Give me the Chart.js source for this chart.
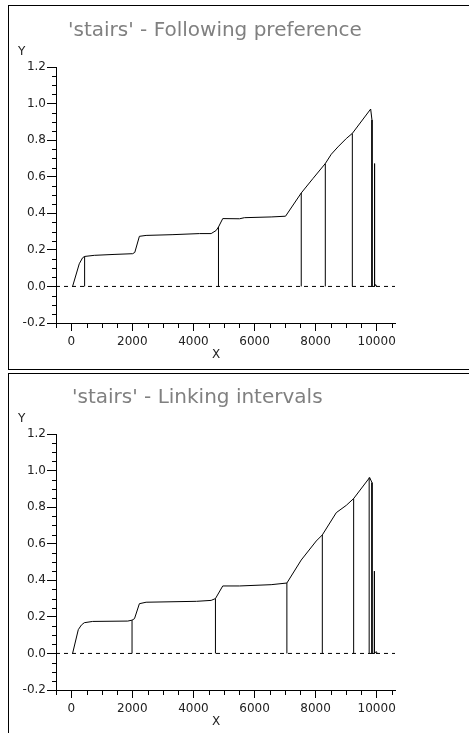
<!DOCTYPE html>
<html>
<head>
<meta charset="utf-8">
<script src="https://cdn.jsdelivr.net/npm/chart.js@4"></script>
<style>
html,body{margin:0;padding:0;background:#fff;overflow:hidden;width:469px;height:733px;}
.panel{position:absolute;left:8px;width:480px;border:1px solid #000;box-sizing:border-box;background:#fff;}
#p1{top:5px;height:365px;}
#p2{top:373px;height:400px;}
canvas{position:absolute;}
#c1{left:8px;top:5px;}
#c2{left:8px;top:372px;}
</style>
</head>
<body>
<div class="panel" id="p1"></div>
<div class="panel" id="p2"></div>
<canvas id="c1" width="414" height="364"></canvas>
<canvas id="c2" width="414" height="364"></canvas>
<script>
// ---- titles & axis names ----
const title1 = "'stairs' - Following preference";
const title2 = "'stairs' - Linking intervals";
const xName = "X";
const yName = "Y";

// ---- tick labels ----
const xMajorTicks = [0, 2000, 4000, 6000, 8000, 10000];
const yMajorTicks = [-0.2, 0.0, 0.2, 0.4, 0.6, 0.8, 1.0, 1.2];
const xMinorStep = 500;
const yMinorStep = 0.05;
const xMin = -500, xMax = 10600, yMin = -0.2, yMax = 1.2;

// ---- series: 'Following preference' ----
const followX = [43, 262, 372, 437, 754, 1400, 2010, 2080, 2230, 2450, 3300, 4197, 4580, 4744, 4820, 4960, 5510, 5670, 6545, 7016, 7530, 7913, 8318, 8514, 8732, 9006, 9203, 9803, 9846, 9846, 9915, 9915, 9940, 9940, 9965, 10000];
const followY = [0, 0.124, 0.157, 0.164, 0.170, 0.175, 0.179, 0.186, 0.274, 0.279, 0.283, 0.289, 0.289, 0.306, 0.325, 0.371, 0.370, 0.376, 0.380, 0.384, 0.511, 0.590, 0.672, 0.723, 0.763, 0.809, 0.837, 0.970, 0.910, 0, 0, 0.672, 0.672, 0, 0.01, 0];
const followCutX = [437, 4820, 7530, 8318, 9203];
const followCutY = [0.164, 0.325, 0.511, 0.672, 0.837];

// ---- series: 'Linking intervals' ----
const linkX = [43, 230, 330, 426, 700, 1850, 1990, 2070, 2230, 2450, 4100, 4580, 4721, 4960, 5510, 6545, 7060, 7530, 8022, 8220, 8678, 9006, 9246, 9770, 9846, 9846, 9925, 9925, 9925, 9985, 10020];
const linkY = [0, 0.130, 0.155, 0.168, 0.175, 0.177, 0.182, 0.190, 0.272, 0.280, 0.285, 0.290, 0.300, 0.369, 0.369, 0.376, 0.385, 0.511, 0.615, 0.648, 0.770, 0.810, 0.847, 0.962, 0.934, 0, 0, 0.450, 0, 0.01, 0];
const linkCutX = [1990, 4721, 7060, 8220, 9246, 9754];
const linkCutY = [0.182, 0.300, 0.385, 0.648, 0.847, 0.962];

const zeroLineX = [xMin, xMax];
const zeroLineY = [0, 0];

// ---- helpers ----
const isXMajor = v => xMajorTicks.some(t => Math.abs(t - v) < 1e-6);
const isYMajor = v => yMajorTicks.some(t => Math.abs(t - v) < 1e-6);

function xTickValues() {
  const out = [];
  for (let i = Math.round(xMin / xMinorStep); i * xMinorStep < xMax; i++) out.push({value: i * xMinorStep});
  return out;
}
function yTickValues() {
  const out = [];
  const n0 = Math.round(yMin / yMinorStep), n1 = Math.round(yMax / yMinorStep);
  for (let i = n0; i <= n1; i++) out.push({value: +(i * yMinorStep).toFixed(4)});
  return out;
}
const zip = (xs, ys) => xs.map((x, i) => ({x: x, y: ys[i]}));
function cutSegments(xs, ys) {
  const out = [];
  xs.forEach((x, i) => { out.push({x: x, y: 0}, {x: x, y: ys[i]}, {x: x, y: null}); });
  return out;
}

const decor = {
  id: 'decor',
  afterLayout(chart, args, opts) {
    // title starts at a fixed indent inside the panel
    if (chart.titleBlock) {
      chart.titleBlock.left = opts.titleIndent;
      chart.titleBlock.right = chart.width;
      chart.titleBlock.width = chart.width - opts.titleIndent;
    }
  },
  afterDraw(chart) {
    const ctx = chart.ctx, ca = chart.chartArea;
    const xs = chart.scales.x, ys = chart.scales.y;
    ctx.save();
    ctx.strokeStyle = '#000';
    ctx.lineWidth = 1;
    ctx.beginPath();
    xs.ticks.forEach(t => {
      if (!isXMajor(t.value)) {
        const px = Math.round(xs.getPixelForValue(t.value)) + 0.5;
        ctx.moveTo(px, Math.round(ca.bottom));
        ctx.lineTo(px, Math.round(ca.bottom) + 5);
      }
    });
    ys.ticks.forEach(t => {
      if (!isYMajor(t.value)) {
        const py = Math.round(ys.getPixelForValue(t.value)) + 0.5;
        ctx.moveTo(Math.round(ca.left) - 4, py);
        ctx.lineTo(Math.round(ca.left), py);
      }
    });
    ctx.stroke();
    ctx.fillStyle = '#222';
    ctx.font = '12px "DejaVu Sans"';
    ctx.textBaseline = 'alphabetic';
    ctx.textAlign = 'left';
    ctx.fillText(yName, 10, 50);
    ctx.textAlign = 'center';
    ctx.fillText(xName, chart.width / 2 + 1, 353);
    ctx.restore();
  }
};

Chart.defaults.font.family = '"DejaVu Sans", sans-serif';

function makeChart(id, title, titleIndent, xs, ys, cutXs, cutYs) {
  const lineStyle = {showLine: true, borderColor: '#000', borderWidth: 1, pointRadius: 0, fill: false, tension: 0};
  return new Chart(document.getElementById(id), {
    type: 'scatter',
    data: {
      datasets: [
        Object.assign({label: 'curve', data: zip(xs, ys)}, lineStyle),
        Object.assign({label: 'links', data: cutSegments(cutXs, cutYs), spanGaps: false}, lineStyle),
        Object.assign({label: 'zero', data: zip(zeroLineX, zeroLineY), borderDash: [4, 4]}, lineStyle)
      ]
    },
    options: {
      responsive: false,
      animation: false,
      devicePixelRatio: 1,
      layout: {padding: {left: 0, right: 27, top: 0, bottom: 0}},
      plugins: {
        legend: {display: false},
        tooltip: {enabled: false},
        decor: {titleIndent: titleIndent},
        title: {
          display: true, text: title, color: '#808080', align: 'start',
          font: {size: 20, weight: 'normal', family: '"DejaVu Sans", sans-serif', lineHeight: 1.2},
          padding: {top: 14, bottom: 24}
        }
      },
      scales: {
        x: {
          type: 'linear', min: xMin, max: xMax,
          afterBuildTicks: s => { s.ticks = xTickValues(); },
          afterFit: s => { s.height = 46; },
          border: {display: true, color: '#000', width: 1},
          grid: {display: true, drawOnChartArea: false, drawTicks: true, tickLength: 8,
                 tickColor: c => (c.tick && isXMajor(c.tick.value)) ? '#000' : 'rgba(0,0,0,0)'},
          ticks: {autoSkip: false, maxRotation: 0, minRotation: 0, padding: 4, color: '#222',
                  font: {size: 12},
                  callback: v => isXMajor(v) ? String(v) : ''}
        },
        y: {
          type: 'linear', min: yMin, max: yMax,
          afterBuildTicks: s => { s.ticks = yTickValues(); },
          afterFit: s => { s.width = 48; },
          border: {display: true, color: '#000', width: 1},
          grid: {display: true, drawOnChartArea: false, drawTicks: true, tickLength: 9,
                 tickColor: c => (c.tick && isYMajor(c.tick.value)) ? '#000' : 'rgba(0,0,0,0)'},
          ticks: {autoSkip: false, padding: 1, color: '#222',
                  font: {size: 12},
                  callback: v => isYMajor(v) ? Number(v).toFixed(1) : ''}
        }
      }
    },
    plugins: [decor]
  });
}

makeChart('c1', title1, 60, followX, followY, followCutX, followCutY);
makeChart('c2', title2, 64, linkX, linkY, linkCutX, linkCutY);
</script>
</body>
</html>
